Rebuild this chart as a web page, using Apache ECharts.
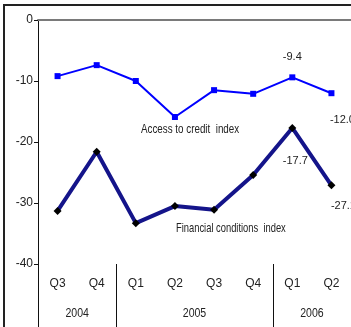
<!DOCTYPE html>
<html>
<head>
<meta charset="utf-8">
<script src="https://cdn.jsdelivr.net/npm/echarts@6/dist/echarts.min.js"></script>
<style>
  html, body { margin: 0; padding: 0; background: #fff; }
  #chart { width: 351px; height: 327px; }
</style>
</head>
<body>
<div id="chart"></div>
<script>
// Quarterly indices, Q3 2004 – Q2 2006
var quarters = ['Q3', 'Q4', 'Q1', 'Q2', 'Q3', 'Q4', 'Q1', 'Q2'];
var years = [
  { label: '2004', from: 0, count: 2 },
  { label: '2005', from: 2, count: 4 },
  { label: '2006', from: 6, count: 2 }
];
var accessToCredit = [-9.2, -7.4, -10.0, -15.9, -11.5, -12.1, -9.4, -12.0];
var financialConditions = [-31.3, -21.6, -33.3, -30.5, -31.1, -25.4, -17.7, -27.1];
var yTicks = { min: -40, max: 0, interval: 10 };

var FONT = '"Liberation Sans Narrow", "Arial Narrow", "Liberation Sans", sans-serif';
var TEXT = '#222';

// value labels shown on the last two quarters
function labelled(values, labels) {
  return values.map(function (v, i) {
    var cfg = labels[i];
    if (!cfg) return v;
    return {
      value: v,
      label: {
        show: true,
        formatter: v.toFixed(1),
        position: 'inside',
        offset: cfg,
        color: TEXT,
        fontFamily: FONT,
        fontSize: 11
      }
    };
  });
}

var chart = echarts.init(document.getElementById('chart'));
chart.setOption({
  animation: false,
  grid: { left: 38, top: 20, width: 317, height: 244, containLabel: false },
  xAxis: [
    {
      type: 'category',
      data: quarters,
      position: 'bottom',
      boundaryGap: true,
      axisLine: { show: false },
      axisTick: { show: false },
      axisLabel: { color: TEXT, fontFamily: FONT, fontSize: 12, margin: 14 }
    },
    {
      type: 'category',
      data: quarters,
      position: 'top',
      axisLine: { show: true, onZero: false, lineStyle: { color: '#7a7a7a', width: 2 } },
      axisTick: { show: false },
      axisLabel: { show: false }
    }
  ],
  yAxis: {
    type: 'value',
    min: yTicks.min,
    max: yTicks.max,
    interval: yTicks.interval,
    axisLine: { show: true, lineStyle: { color: '#111', width: 1 } },
    axisTick: { show: true, length: 4, lineStyle: { color: '#111' } },
    axisLabel: { color: TEXT, fontFamily: FONT, fontSize: 12, margin: 5 },
    splitLine: { show: false }
  },
  series: [
    {
      name: 'Access to credit index',
      type: 'line',
      data: labelled(accessToCredit, { 6: [0, -20], 7: [11, 27] }),
      lineStyle: { color: '#0000ff', width: 2 },
      itemStyle: { color: '#0000ff' },
      symbol: 'rect',
      symbolSize: 6,
      showAllSymbol: true,
      z: 3
    },
    {
      name: 'Financial conditions index',
      type: 'line',
      data: labelled(financialConditions, { 6: [3, 33], 7: [12, 21] }),
      lineStyle: { color: '#14148a', width: 4 },
      itemStyle: { color: '#000' },
      symbol: 'diamond',
      symbolSize: 8,
      showAllSymbol: true,
      z: 2
    }
  ]
});

// outer frame, series captions, year groups and their separators
var bottomY = chart.convertToPixel({ yAxisIndex: 0 }, yTicks.min);
var step = chart.convertToPixel({ xAxisIndex: 0 }, 1) - chart.convertToPixel({ xAxisIndex: 0 }, 0);
var elements = [
  {
    type: 'rect',
    shape: { x: 4, y: 5, width: 400, height: 400 },
    style: { fill: null, stroke: '#222', lineWidth: 2 },
    silent: true
  },
  {
    type: 'text', x: 141, y: 129, scaleX: 0.755,
    style: { text: 'Access to credit  index', fill: TEXT, font: '13px ' + FONT, verticalAlign: 'middle' }
  },
  {
    type: 'text', x: 176, y: 228, scaleX: 0.72,
    style: { text: 'Financial conditions  index', fill: TEXT, font: '13px ' + FONT, verticalAlign: 'middle' }
  }
];
years.forEach(function (g) {
  var a = chart.convertToPixel({ xAxisIndex: 0 }, g.from);
  var b = chart.convertToPixel({ xAxisIndex: 0 }, g.from + g.count - 1);
  var left = Math.round(a - step / 2) + 0.5;
  elements.push({
    type: 'line',
    shape: { x1: left, y1: bottomY, x2: left, y2: bottomY + 63 },
    style: { stroke: '#111', lineWidth: 1 },
    silent: true
  });
  elements.push({
    type: 'text',
    x: (a + b) / 2, y: bottomY + 50, scaleX: 0.88,
    style: { text: g.label, fill: TEXT, font: '12px ' + FONT, align: 'center', verticalAlign: 'middle' },
    silent: true
  });
});
chart.setOption({ graphic: elements });
</script>
</body>
</html>
